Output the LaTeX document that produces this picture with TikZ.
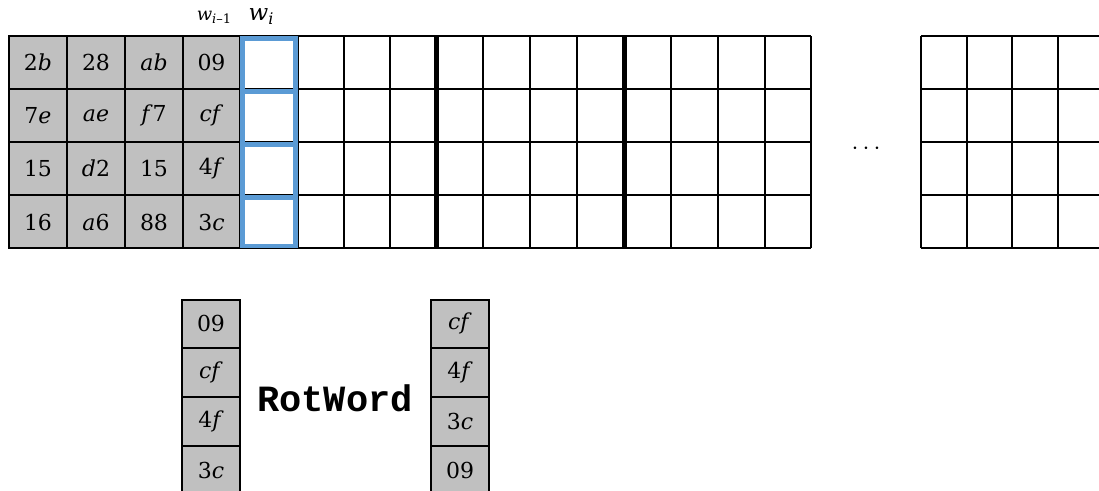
\documentclass[tikz,border=0pt]{standalone}
\usepackage{fontspec}
\newfontfamily\monob{Liberation Mono}
\newfontfamily\cellf{DejaVu Serif}
\newcommand{\vi}[1]{\textit{#1}}
\definecolor{cellgray}{HTML}{C0C0C0}
\definecolor{wblue}{HTML}{5B9BD5}
\begin{document}
\begin{tikzpicture}[x=1pt,y=-1pt,
  gridline/.style={line width=2pt},
  thickline/.style={line width=5pt},
  bluebox/.style={draw=wblue,line width=4.5pt},
  celltext/.style={font=\cellf\fontsize{22}{26}\selectfont, inner sep=0pt},
  lbl/.style={inner sep=0pt, anchor=base}]
\useasboundingbox (0,0) rectangle (1099,490);
% ---- top state grid ----
\fill[cellgray] (9,36) rectangle (240,248);
\foreach \y in {36,89,142,195,248} {
  \draw[gridline] (8,\y) -- (811,\y);
  \draw[gridline] (921,\y) -- (1105,\y);
}
\foreach \x in {9,67,125,183,240,298,344,390,483,530,577,671,718,765,811,921,967,1012,1058}
  \draw[gridline] (\x,36) -- (\x,248);
\draw[thickline] (436,36) -- (436,248);
\draw[thickline] (624,36) -- (624,248);
% blue word column
\draw[bluebox] (242.5,38.5) rectangle (295.5,246);
\foreach \y in {91.5,144.5,197.5}
  \draw[bluebox] (242.5,\y) -- (295.5,\y);
% labels
\node[lbl, font=\cellf\fontsize{18}{20}\selectfont] (wim1) at (214,20)
  {\vi{w}\raisebox{-0.2em}{\fontsize{13}{13}\selectfont\vi{i}\textendash1}};
\node[lbl, font=\cellf\fontsize{23}{26}\selectfont] (wi) at (261,20)
  {\vi{w}\raisebox{-0.2em}{\fontsize{16}{16}\selectfont\vi{i}}};
% cell texts
\node[celltext] (a11) at (38,62.5) {2\vi{b}};
\node[celltext] (a12) at (96,62.5) {28};
\node[celltext] (a13) at (154,62.5) {\vi{ab}};
\node[celltext] (a14) at (211.5,62.5) {09};
\node[celltext] (a21) at (38,115.5) {7\vi{e}};
\node[celltext] (a22) at (96,115.5) {\vi{ae}};
\node[celltext] (a23) at (154,115.5) {\vi{f}7};
\node[celltext] (a24) at (211.5,115.5) {\vi{cf}};
\node[celltext] (a31) at (38,168.5) {15};
\node[celltext] (a32) at (96,168.5) {\vi{d}2};
\node[celltext] (a33) at (154,168.5) {15};
\node[celltext] (a34) at (211.5,168.5) {4\vi{f}};
\node[celltext] (a41) at (38,222.5) {16};
\node[celltext] (a42) at (96,222.5) {\vi{a}6};
\node[celltext] (a43) at (154,222.5) {88};
\node[celltext] (a44) at (211.5,222.5) {3\vi{c}};
% dots
\node[inner sep=0pt, font=\fontsize{30}{32}\selectfont] (dots) at (866,149) {$\cdots$};
% ---- bottom: RotWord ----
\fill[cellgray] (182,299.5) rectangle (240,494);
\fill[cellgray] (431,299.5) rectangle (489,494);
\draw[gridline] (182,299.5) rectangle (240,494);
\draw[gridline] (431,299.5) rectangle (489,494);
\foreach \y in {348,397,445.5} {
  \draw[gridline] (182,\y) -- (240,\y);
  \draw[gridline] (431,\y) -- (489,\y);
}
\node[celltext] (b1) at (211,323.7) {09};
\node[celltext] (b2) at (211,372.5) {\vi{cf}};
\node[celltext] (b3) at (211,421) {4\vi{f}};
\node[celltext] (b4) at (211,470) {3\vi{c}};
\node[celltext] (c1) at (460,323.7) {\vi{cf}};
\node[celltext] (c2) at (460,372.5) {4\vi{f}};
\node[celltext] (c3) at (460,421) {3\vi{c}};
\node[celltext] (c4) at (460,470) {09};
\node[inner sep=0pt, font=\monob\bfseries\fontsize{37}{40}\selectfont] (rot) at (335,398) {RotWord};
\end{tikzpicture}
\end{document}
